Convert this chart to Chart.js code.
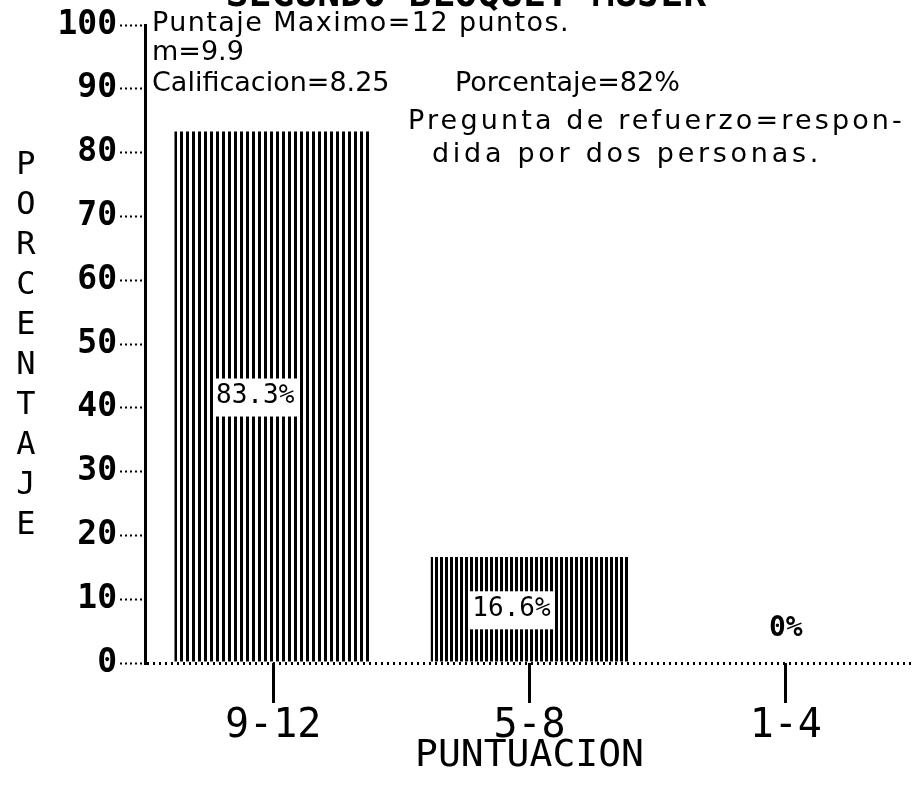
<!DOCTYPE html>
<html>
<head>
<meta charset="utf-8">
<script src="https://cdn.jsdelivr.net/npm/chart.js@4.4.1/dist/chart.umd.min.js"></script>
<style>
  body { margin: 0; background: #fff; }
  #caja { width: 914px; height: 799px; }
</style>
</head>
<body>
<div id="caja"><canvas id="grafica"></canvas></div>
<script>
const titulo = 'SEGUNDO BLOQUE: MUJER';
const categorias = ['9-12', '5-8', '1-4'];
const porcentajes = [83.3, 16.6, 0];
const etiquetas = ['83.3%', '16.6%', '0%'];
const ticksY = [0, 10, 20, 30, 40, 50, 60, 70, 80, 90, 100];
const tituloY = 'PORCENTAJE';
const tituloX = 'PUNTUACION';
const notas = [
    'Puntaje Maximo=12 puntos.',
    'm=9.9',
    'Calificacion=8.25',
    'Porcentaje=82%',
    'Pregunta de refuerzo=respon-',
    'dida por dos personas.'
];

// rayado vertical de las barras
const rayas = (paso, negro) => {
    const c = document.createElement('canvas');
    c.width = paso;
    c.height = 4;
    const g = c.getContext('2d');
    g.fillStyle = '#fff';
    g.fillRect(0, 0, paso, 4);
    g.fillStyle = '#000';
    g.fillRect(0, 0, negro, 4);
    return g.createPattern(c, 'repeat');
};

// x, y de base y ancho deseado de cada nota
const lugarNotas = [
    [152, 31, 418],
    [152, 60, 72],
    [152, 91, 230],
    [455, 91, 200],
    [408, 129, 497],
    [432, 162, 390]
];

const textos = {
    id: 'textos',
    afterDraw(chart) {
        const ctx = chart.ctx;
        ctx.save();
        ctx.fillStyle = '#000';

        // titulo cortado arriba
        ctx.font = 'bold 38px "DejaVu Sans Mono"';
        ctx.textAlign = 'center';
        ctx.textBaseline = 'alphabetic';
        ctx.fillText(titulo, 466, 6);

        // notas
        ctx.textAlign = 'left';
        ctx.font = '27px "DejaVu Sans"';
        notas.forEach((t, i) => {
            const [x, y, ancho] = lugarNotas[i];
            ctx.letterSpacing = '0px';
            const w = ctx.measureText(t).width;
            ctx.letterSpacing = Math.max(0, (ancho - w) / t.length) + 'px';
            ctx.fillText(t, x, y);
        });
        ctx.letterSpacing = '0px';

        // titulo vertical del eje y, letra por letra
        ctx.font = '32px "DejaVu Sans Mono"';
        ctx.textAlign = 'center';
        ctx.textBaseline = 'middle';
        tituloY.split('').forEach((l, i) => {
            ctx.fillText(l, 26, 166 + i * 40);
        });

        // etiquetas de las barras
        const meta = chart.getDatasetMeta(0);
        meta.data.forEach((bar, i) => {
            const t = etiquetas[i];
            if (porcentajes[i] > 0) {
                ctx.font = '26px "DejaVu Sans Mono"';
                const w = ctx.measureText(t).width;
                const y = (bar.y + bar.base) / 2;
                const x = bar.x - 18;
                ctx.fillStyle = '#fff';
                ctx.fillRect(x - w / 2 - 3, y - 18, w + 6, 38);
                ctx.fillStyle = '#000';
                ctx.fillText(t, x, y);
            } else {
                ctx.font = 'bold 28px "DejaVu Sans Mono"';
                ctx.fillText(t, bar.x, bar.base - 34);
            }
        });
        ctx.restore();
    }
};

const ctx = document.getElementById('grafica').getContext('2d');

new Chart(ctx, {
    type: 'bar',
    data: {
        labels: categorias,
        datasets: [{
            data: porcentajes,
            backgroundColor: [rayas(6, 3), rayas(5, 3), rayas(5, 3)],
            borderWidth: 0,
            barPercentage: 0.77,
            categoryPercentage: 1
        }]
    },
    options: {
        responsive: true,
        maintainAspectRatio: false,
        animation: false,
        layout: { padding: { top: 25, right: 0, left: 0, bottom: 0 } },
        plugins: {
            legend: { display: false },
            tooltip: { enabled: false }
        },
        scales: {
            x: {
                afterFit: (s) => { s.height = 136; },
                grid: {
                    offset: false,
                    drawOnChartArea: false,
                    tickLength: 40,
                    tickColor: '#000',
                    tickWidth: 3
                },
                border: { display: false },
                ticks: {
                    color: '#000',
                    padding: 0,
                    font: { family: 'DejaVu Sans Mono', size: 40 }
                },
                title: {
                    display: true,
                    text: tituloX,
                    color: '#000',
                    padding: { top: 0, bottom: 20 },
                    font: { family: 'DejaVu Sans Mono', size: 38 }
                }
            },
            y: {
                min: 0,
                max: 100,
                afterFit: (s) => { s.width = 145; },
                afterBuildTicks: (s) => { s.ticks = ticksY.map(v => ({ value: v })); },
                grid: {
                    drawOnChartArea: true,
                    color: (c) => (c.tick && c.tick.value === 0 ? '#000' : 'rgba(0,0,0,0)'),
                    lineWidth: 3,
                    tickLength: 25,
                    tickColor: '#000',
                    tickWidth: 2,
                    tickBorderDash: [2, 3]
                },
                border: { color: '#000', width: 3, dash: [2, 4] },
                ticks: {
                    color: '#000',
                    padding: 3,
                    font: { family: 'DejaVu Sans Mono', size: 33, weight: 'bold' }
                }
            }
        }
    },
    plugins: [textos]
});
</script>
</body>
</html>
